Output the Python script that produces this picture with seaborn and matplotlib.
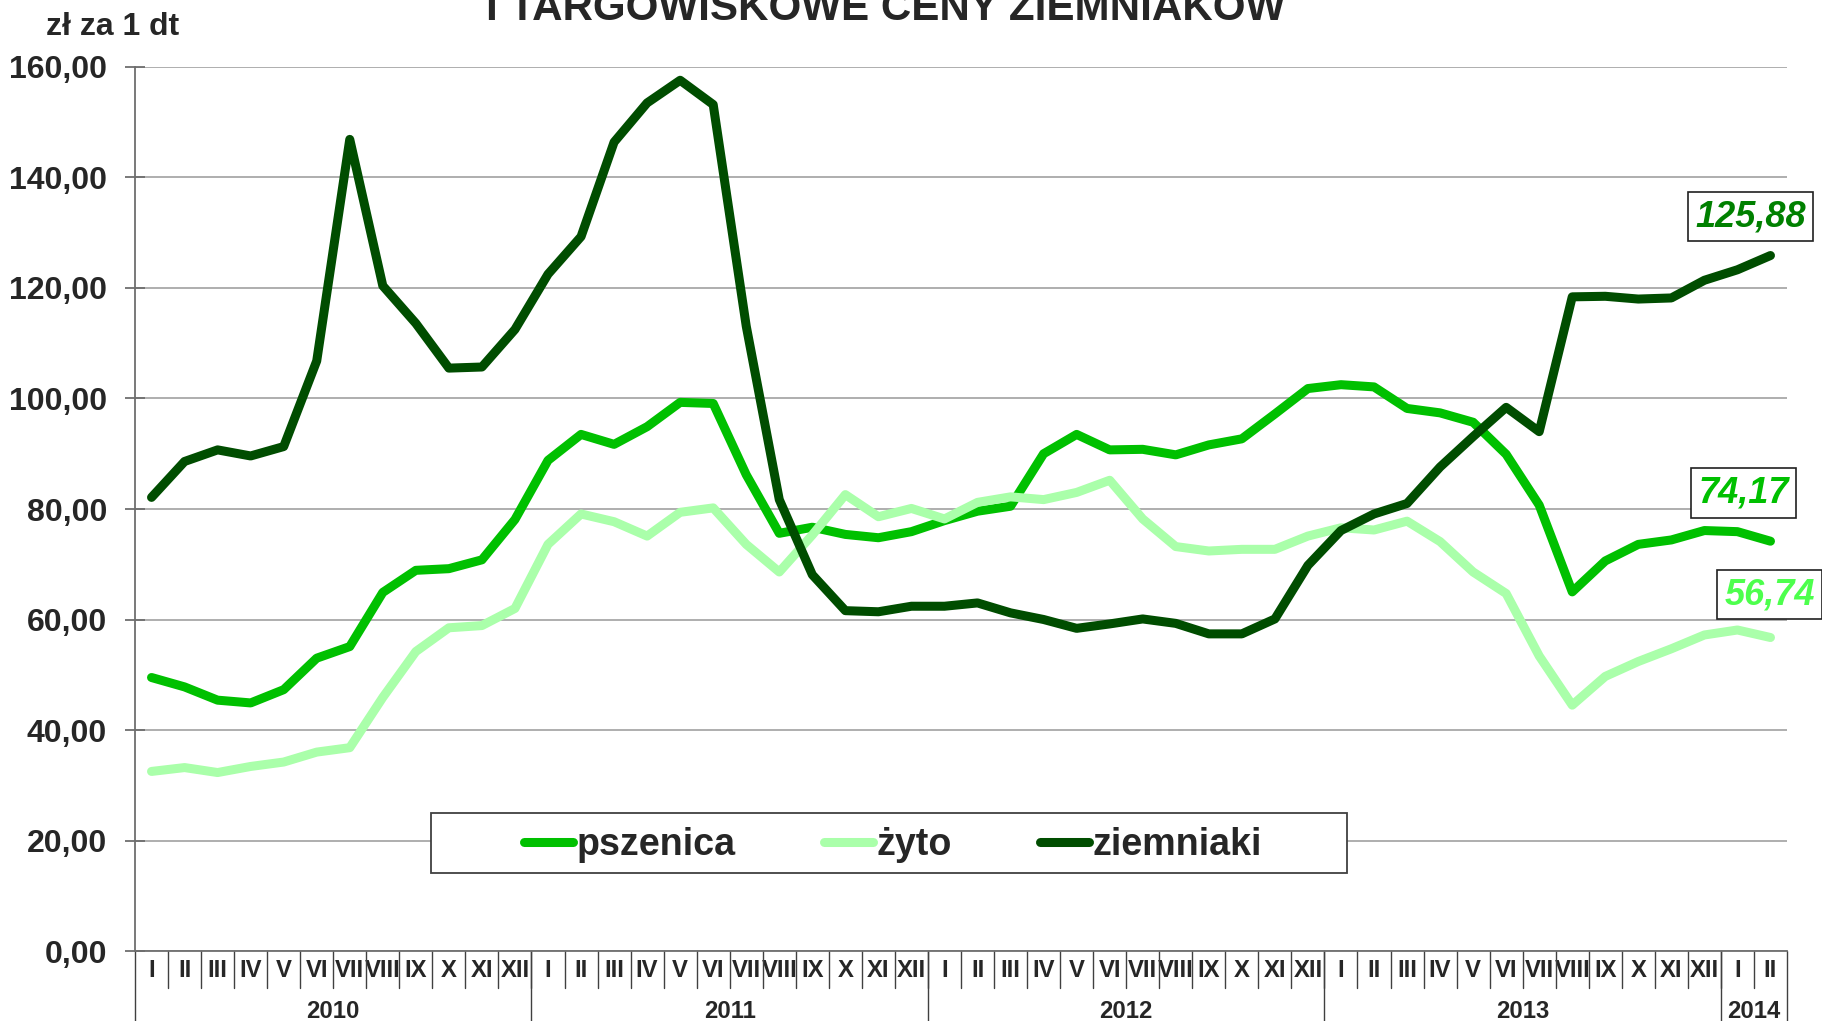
import numpy as np
import pandas as pd
import matplotlib
matplotlib.use("Agg")
import matplotlib.pyplot as plt
import matplotlib.transforms as mtransforms
from matplotlib import font_manager as fm
from matplotlib.lines import Line2D
from matplotlib.patches import Rectangle
import seaborn as sns

# ---- data: monthly prices, zł za 1 dt ----
years = ["2010", "2011", "2012", "2013", "2014"]
months_per_year = [12, 12, 12, 12, 2]
month_names = ["I", "II", "III", "IV", "V", "VI", "VII", "VIII", "IX", "X", "XI", "XII"]

pszenica = [
    49.5, 47.8, 45.4, 44.9, 47.3, 53.0, 55.1, 64.9, 68.9, 69.2, 70.8, 78.1,
    88.8, 93.5, 91.7, 94.9, 99.3, 99.1, 86.2, 75.6, 76.7, 75.4, 74.8, 75.9,
    77.9, 79.6, 80.5, 90.0, 93.5, 90.7, 90.8, 89.8, 91.6, 92.7, 97.2, 101.8,
    102.5, 102.1, 98.2, 97.4, 95.7, 89.9, 80.7, 65.0, 70.6, 73.6, 74.4, 76.1,
    75.9, 74.17,
]
zyto = [
    32.5, 33.2, 32.3, 33.4, 34.2, 36.0, 36.8, 45.9, 54.2, 58.5, 58.9, 62.0,
    73.6, 79.1, 77.7, 75.1, 79.4, 80.2, 73.6, 68.6, 75.3, 82.6, 78.6, 80.1,
    78.2, 81.2, 82.2, 81.7, 83.0, 85.2, 78.2, 73.2, 72.4, 72.7, 72.7, 75.1,
    76.6, 76.2, 77.8, 74.1, 68.6, 64.7, 53.4, 44.5, 49.7, 52.4, 54.7, 57.2,
    58.1, 56.74,
]
ziemniaki = [
    82.1, 88.6, 90.7, 89.6, 91.3, 106.8, 146.9, 120.4, 113.6, 105.5, 105.7, 112.5,
    122.5, 129.3, 146.4, 153.5, 157.6, 153.2, 113.1, 81.7, 68.1, 61.6, 61.4, 62.4,
    62.4, 63.0, 61.2, 60.0, 58.4, 59.2, 60.1, 59.3, 57.4, 57.4, 60.1, 69.8,
    76.1, 79.1, 81.0, 87.6, 93.1, 98.4, 94.0, 118.4, 118.5, 118.0, 118.2, 121.4,
    123.3, 125.88,
]

series_names = ["pszenica", "żyto", "ziemniaki"]
line_colors = {"pszenica": "#00C000", "żyto": "#AAFFAA", "ziemniaki": "#004D00"}
label_colors = {"pszenica": "#00C000", "żyto": "#4DFF4D", "ziemniaki": "#008000"}

month_labels = [month_names[m] for n in months_per_year for m in range(n)]
n_points = len(month_labels)

df = pd.DataFrame({
    "idx": np.tile(np.arange(n_points), 3),
    "value": pszenica + zyto + ziemniaki,
    "series": np.repeat(series_names, n_points),
})

# ---- fonts ----
sns.set_theme(style="white")
installed = {f.name for f in fm.fontManager.ttflist}
has_narrow = "Liberation Sans Narrow" in installed
narrow_family = (["Liberation Sans Narrow"] if has_narrow else []) + ["Liberation Sans", "DejaVu Sans"]
nk = 1.0 if has_narrow else 0.82
plt.rcParams["font.family"] = ["Liberation Sans", "DejaVu Sans"]
plt.rcParams["font.weight"] = "bold"

W, H = 1822, 1021
fig = plt.figure(figsize=(W / 100, H / 100), dpi=100)
fig.patch.set_facecolor("white")
ax_left, ax_right, ax_top, ax_bottom = 135, 1787, 67, 951
ax = fig.add_axes([ax_left / W, 1 - ax_bottom / H, (ax_right - ax_left) / W, (ax_bottom - ax_top) / H])
ax.set_facecolor("white")

sns.lineplot(data=df, x="idx", y="value", hue="series", hue_order=series_names,
             palette=line_colors, linewidth=6.5, sort=False, legend=False, ax=ax)
for ln in ax.lines:
    ln.set_solid_capstyle("round")
    ln.set_solid_joinstyle("round")

ax.set_xlim(-0.5, n_points - 0.5)
ax.set_ylim(0, 160)
yt = np.arange(0, 161, 20)
ax.set_yticks(yt)
ax.set_yticklabels([f"{v:.2f}".replace(".", ",") for v in yt], fontsize=23, fontweight="bold")
ax.tick_params(axis="y", direction="inout", length=14, width=1.3, color="#6E6E6E", pad=13, left=True)
ax.set_xlabel("")
ax.set_ylabel("")

ax.set_xticks(np.arange(n_points))
ax.set_xticklabels(month_labels, fontsize=21 * nk, fontweight="bold", family=narrow_family)
ax.tick_params(axis="x", length=0, pad=6)

ax.yaxis.grid(True, color="#A8A8A8", linewidth=1.3)
ax.xaxis.grid(False)
ax.set_axisbelow(True)
for s in ["top", "right"]:
    ax.spines[s].set_visible(False)
for s in ["left", "bottom"]:
    ax.spines[s].set_color("#6E6E6E")
    ax.spines[s].set_linewidth(1.3)

# category separators below the axis
axh = ax_bottom - ax_top
blend = mtransforms.blended_transform_factory(ax.transData, ax.transAxes)
for k in range(1, n_points):
    ax.add_line(Line2D([k - 0.5, k - 0.5], [0, -37 / axh], transform=blend,
                       color="#404040", lw=1.0, clip_on=False))
bounds = np.concatenate([[0], np.cumsum(months_per_year)])
for b in bounds:
    ax.add_line(Line2D([b - 0.5, b - 0.5], [0, -80 / axh], transform=blend,
                       color="#404040", lw=1.0, clip_on=False))
for y, a, b in zip(years, bounds[:-1], bounds[1:]):
    ax.text((a + b - 1) / 2, -(1018 - ax_bottom) / axh, y, transform=blend,
            ha="center", va="baseline", fontsize=21 * nk, fontweight="bold",
            family=narrow_family, clip_on=False)

# value labels for the last month
last = {"pszenica": pszenica[-1], "żyto": zyto[-1], "ziemniaki": ziemniaki[-1]}
offsets = {"ziemniaki": (-20, 39), "pszenica": (-27, 48), "żyto": (-1, 43)}
for name in series_names:
    v = last[name]
    ax.annotate(f"{v:.2f}".replace(".", ","), xy=(n_points - 1, v),
                xytext=offsets[name], textcoords="offset pixels",
                ha="center", va="center", fontsize=26, fontweight="bold", style="italic",
                color=label_colors[name], annotation_clip=False,
                bbox=dict(boxstyle="square,pad=0.2", fc="white", ec="#202020", lw=1.2),
                zorder=6)

# legend with its own frame
ax.add_patch(Rectangle((431 / W, 1 - 873 / H), 916 / W, 60 / H, transform=fig.transFigure,
                       facecolor="white", edgecolor="#404040", lw=1.3, clip_on=False, zorder=4))
handles = [Line2D([0], [0], color=line_colors[n], lw=6.5, solid_capstyle="round") for n in series_names]
leg = ax.legend(handles, series_names, loc="center", ncol=3, frameon=False,
                bbox_to_anchor=(893 / W, 1 - 845 / H), bbox_transform=fig.transFigure,
                prop=fm.FontProperties(family=narrow_family, weight="bold", size=33 * nk),
                handlelength=1.3, handletextpad=0.1, columnspacing=2.35)
leg.set_zorder(5)

# headings
fig.text(886 / W, 1 - 20 / H, "I TARGOWISKOWE CENY ZIEMNIAKÓW", ha="center", va="baseline",
         fontsize=37 * nk, fontweight="bold", family=narrow_family)
fig.text(46 / W, 1 - 35 / H, "zł za 1 dt", ha="left", va="baseline", fontsize=23, fontweight="bold")

fig.savefig("out.png", dpi=100, facecolor="white")
